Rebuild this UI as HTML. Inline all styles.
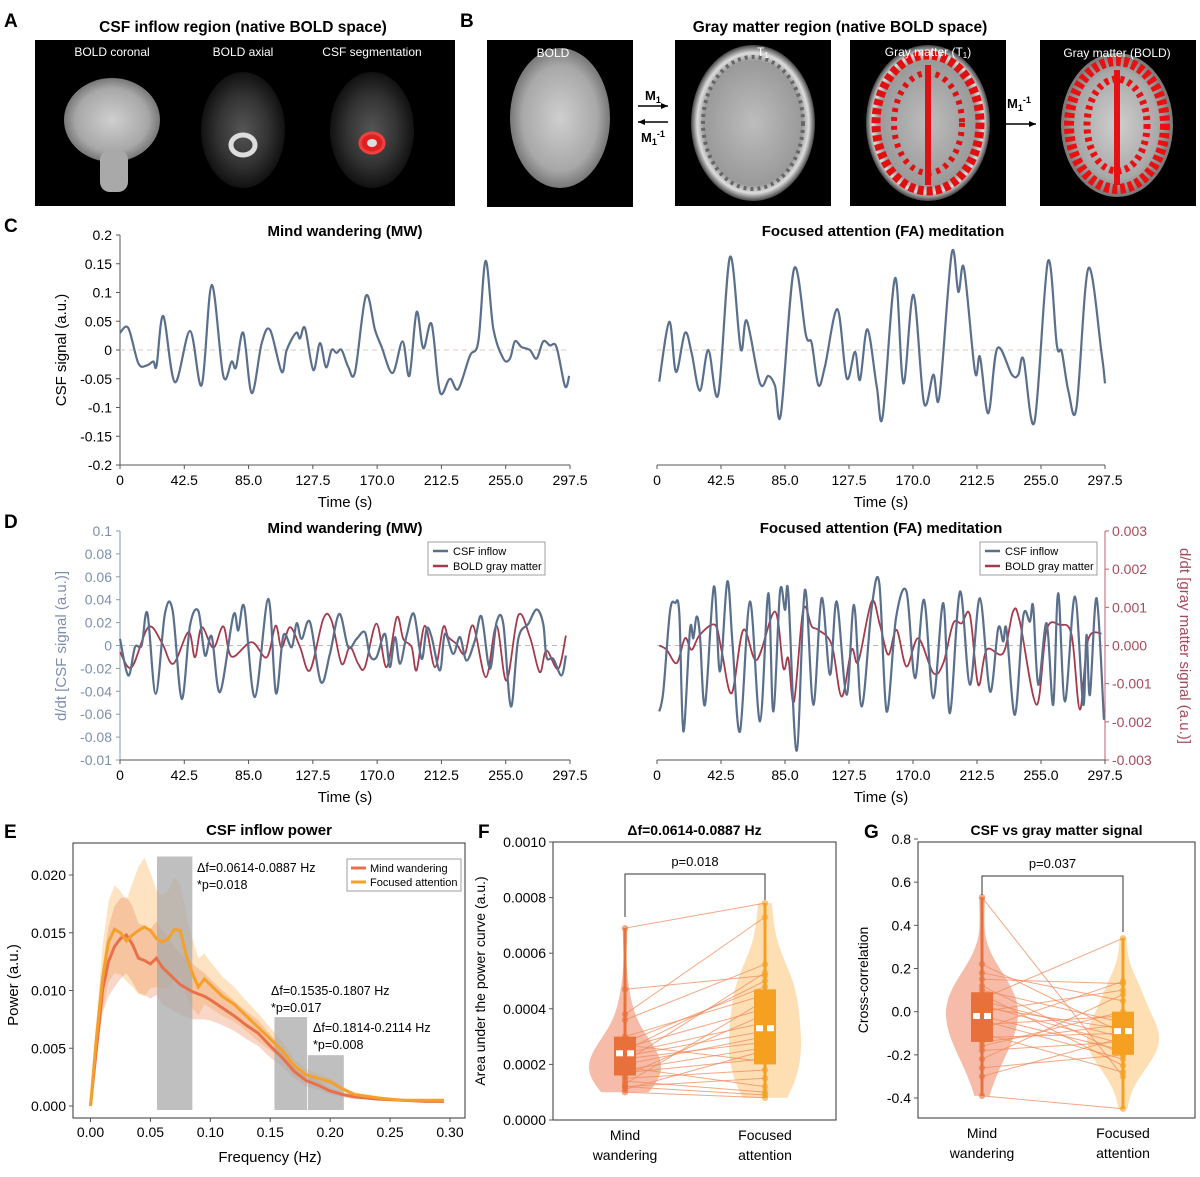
<!DOCTYPE html>
<html><head><meta charset="utf-8"><style>
html,body{margin:0;padding:0;background:#fff;}
svg{display:block;font-family:"Liberation Sans",sans-serif;}
</style></head><body>
<svg id="fig" width="1200" height="1177" viewBox="0 0 1200 1177" xmlns="http://www.w3.org/2000/svg">
<defs>
<radialGradient id="gBold" cx="50%" cy="50%" r="50%"><stop offset="0" stop-color="#cfcfcf"/><stop offset="0.75" stop-color="#a8a8a8"/><stop offset="1" stop-color="#777"/></radialGradient>
<radialGradient id="gT1" cx="50%" cy="50%" r="50%"><stop offset="0" stop-color="#bdbdbd"/><stop offset="0.8" stop-color="#9a9a9a"/><stop offset="0.9" stop-color="#ddd"/><stop offset="1" stop-color="#444"/></radialGradient>
<radialGradient id="gAx" cx="50%" cy="50%" r="50%"><stop offset="0" stop-color="#555"/><stop offset="0.6" stop-color="#333"/><stop offset="1" stop-color="#111"/></radialGradient>
</defs>

<!-- Panel A -->
<g>
<text x="4" y="27" font-size="19" font-weight="bold">A</text>
<text x="243" y="32" font-size="15.5" font-weight="bold" text-anchor="middle">CSF inflow region (native BOLD space)</text>
<rect x="35" y="40" width="420" height="166" fill="#000"/>
<g>
<ellipse cx="112" cy="120" rx="48" ry="42" fill="url(#gBold)"/>
<rect x="100" y="150" width="28" height="42" rx="10" fill="#a9a9a9"/>
<text x="112" y="56" font-size="12" fill="#fff" text-anchor="middle">BOLD coronal</text></g>
<g>
<ellipse cx="243" cy="130" rx="42" ry="58" fill="url(#gAx)"/>
<ellipse cx="243" cy="145" rx="12" ry="10" fill="none" stroke="#ddd" stroke-width="5"/>
<text x="243" y="56" font-size="12" fill="#fff" text-anchor="middle">BOLD axial</text></g>
<g>
<ellipse cx="372" cy="130" rx="42" ry="58" fill="url(#gAx)"/>
<ellipse cx="372" cy="143" rx="12" ry="10" fill="#e02020" stroke="#f04040" stroke-width="3"/>
<ellipse cx="372" cy="143" rx="5" ry="4" fill="#ddd"/>
<text x="372" y="56" font-size="12" fill="#fff" text-anchor="middle">CSF segmentation</text></g>
</g>

<!-- Panel B -->
<g>
<text x="460" y="27" font-size="19" font-weight="bold">B</text>
<text x="840" y="32" font-size="15.5" font-weight="bold" text-anchor="middle">Gray matter region (native BOLD space)</text>
<g>
<rect x="487" y="40" width="146" height="167" fill="#000"/>
<ellipse cx="560" cy="118" rx="50" ry="70" fill="url(#gBold)"/>
<text x="553" y="57" font-size="12" fill="#fff" text-anchor="middle">BOLD</text></g>
<g>
<line x1="638" y1="106" x2="668" y2="106" stroke="#000" stroke-width="1.5"/><path d="M668,106 l-7,-3 v6z" fill="#000"/>
<text x="645" y="100" font-size="13" font-weight="bold">M<tspan font-size="9" dy="3">1</tspan></text>
<line x1="638" y1="122" x2="668" y2="122" stroke="#000" stroke-width="1.5"/><path d="M638,122 l7,-3 v6z" fill="#000"/>
<text x="641" y="142" font-size="13" font-weight="bold">M<tspan font-size="9" dy="3">1</tspan><tspan font-size="9" dy="-8">-1</tspan></text></g>
<g>
<rect x="675" y="40" width="156" height="166" fill="#000"/>
<ellipse cx="753" cy="123" rx="62" ry="78" fill="url(#gT1)"/>
<ellipse cx="753" cy="123" rx="50" ry="66" fill="none" stroke="#666" stroke-width="4" stroke-dasharray="3 4"/>
<text x="757" y="56" font-size="12" fill="#fff">T<tspan font-size="8" dy="2">1</tspan></text></g>
<g>
<rect x="850" y="40" width="156" height="166" fill="#000"/>
<ellipse cx="928" cy="123" rx="62" ry="78" fill="url(#gT1)"/>
<ellipse cx="928" cy="123" rx="52" ry="68" fill="none" stroke="#e01010" stroke-width="9" stroke-dasharray="6 3"/>
<ellipse cx="928" cy="123" rx="34" ry="50" fill="none" stroke="#e01010" stroke-width="6" stroke-dasharray="4 5"/>
<line x1="928" y1="65" x2="928" y2="185" stroke="#e01010" stroke-width="6"/>
<text x="928" y="56" font-size="12" fill="#fff" text-anchor="middle">Gray matter (T<tspan font-size="8" dy="2">1</tspan><tspan dy="-2">)</tspan></text></g>
<g>
<line x1="1006" y1="124" x2="1036" y2="124" stroke="#000" stroke-width="1.5"/><path d="M1036,124 l-7,-3 v6z" fill="#000"/>
<text x="1007" y="108" font-size="13" font-weight="bold">M<tspan font-size="9" dy="3">1</tspan><tspan font-size="9" dy="-8">-1</tspan></text></g>
<g>
<rect x="1040" y="40" width="156" height="166" fill="#000"/>
<ellipse cx="1117" cy="125" rx="56" ry="72" fill="url(#gBold)"/>
<ellipse cx="1117" cy="125" rx="48" ry="64" fill="none" stroke="#e81010" stroke-width="10" stroke-dasharray="5 3"/>
<ellipse cx="1117" cy="125" rx="30" ry="46" fill="none" stroke="#e81010" stroke-width="7" stroke-dasharray="4 4"/>
<line x1="1117" y1="70" x2="1117" y2="185" stroke="#e81010" stroke-width="6"/>
<text x="1117" y="57" font-size="12" fill="#fff" text-anchor="middle">Gray matter (BOLD)</text></g>
</g>

<text x="4" y="232" font-size="19" font-weight="bold">C</text>
<text x="4" y="528" font-size="19" font-weight="bold">D</text>
<text x="4" y="838" font-size="19" font-weight="bold">E</text>
<text x="478" y="838" font-size="19" font-weight="bold">F</text>
<text x="864" y="838" font-size="19" font-weight="bold">G</text>
<g id="charts"></g>
</svg>
<script>
// ---------- DATA ----------
const cTicks = [0.2,0.15,0.1,0.05,0,-0.05,-0.1,-0.15,-0.2];
const timeTicks = [0,42.5,85.0,127.5,170.0,212.5,255.0,297.5];
const timeTickLabels = ["0","42.5","85.0","127.5","170.0","212.5","255.0","297.5"];
const cMwTime = [0,5.5,12.1,17.6,22,24.2,28.6,36.3,46.3,54,60.6,68.3,73.8,76.7,81.5,87.1,93.7,99.2,106.9,110.2,116.4,119,122.3,127.8,132.2,136.2,139.9,143.2,146.5,151,155.4,162.6,168.6,173,180.2,186.8,191.3,196.1,200.5,206,211.5,218.1,223.6,231.3,236.9,241.7,246.8,253.4,257.8,261.1,265.5,271,275.4,279.8,284.2,288.6,294.2,297];
const cMwCsf = [0.03,0.038,-0.023,-0.027,-0.02,-0.027,0.059,-0.056,0.033,-0.061,0.113,-0.045,-0.02,-0.03,0.03,-0.075,0.012,0.035,-0.038,0,0.03,0.02,0.038,-0.035,0.012,-0.03,0,-0.005,0,-0.03,-0.038,0.094,0.035,0.005,-0.04,0.015,-0.045,0.066,0.003,0.045,-0.073,-0.05,-0.068,-0.01,0.015,0.155,0.037,-0.015,-0.015,0.015,0.005,0,-0.015,0.015,0.008,0.005,-0.063,-0.045];
const cFaTime = [1.5,8.2,12.6,18.6,23,28.5,34.1,40.7,48.5,55.6,59.6,68.4,74,78.4,82.3,91,98.9,102.7,107.1,111.5,119.8,126,131.5,134.8,139.7,145.9,149.9,158.1,163.6,170.3,177.3,183.5,187.5,195.7,200.1,203.9,211.2,214.5,220,226,235.7,240,243.4,250.7,259.6,265.5,268.8,273.3,278.6,286.4,295.2,297.5];
const cFaCsf = [-0.055,0.049,-0.038,0.03,-0.005,-0.071,0,-0.077,0.162,0.002,0.051,-0.058,-0.045,-0.063,-0.111,0.141,0.026,0.012,-0.061,-0.029,0.071,-0.049,-0.003,-0.052,0.036,-0.063,-0.115,0.125,-0.058,0.096,-0.092,-0.043,-0.081,0.168,0.101,0.142,-0.038,-0.012,-0.11,0.003,-0.043,-0.043,-0.016,-0.125,0.154,0.009,-0.003,-0.073,-0.1,0.142,-0.005,-0.058];

const dLeftTicks = [0.1,0.08,0.06,0.04,0.02,0,-0.02,-0.04,-0.06,-0.08,-0.1];
const dLeftTickLabels = ["0.1","0.08","0.06","0.04","0.02","0","-0.02","-0.04","-0.06","-0.08","-0.01"];
const dRightTicks = [0.003,0.002,0.001,0,-0.001,-0.002,-0.003];
const dRightTickLabels = ["0.003","0.002","0.001","0.000","-0.001","-0.002","-0.003"];
const dMwCsfTime = [0,5.5,9.9,14.3,18.1,23.6,29.7,34.8,40.8,46.3,51.8,56.2,60.6,66.1,74.9,78.2,82.2,89.2,98,103.1,108,113.5,116.8,120.1,125.6,132.8,138.8,145,150.9,156.4,161.9,165.2,169.6,175.1,178.4,181.8,185.1,189.5,194.3,199.4,202.7,206,211.5,214.8,220.3,224.7,229.1,234.6,239,244.5,249,253.4,258.4,263.3,269.9,275.4,279.8,282,286.4,291.9,294.8];
const dMwCsf = [0.0058,-0.0262,-0.0015,0,0.0282,-0.0422,0.0276,0.0306,-0.0466,0.0175,0.030,-0.0087,0.0079,-0.0407,0.0262,0.0131,0.0335,-0.0451,0.0407,-0.0416,0.0087,-0.0015,0.0195,0.0058,0.0204,-0.032,-0.0073,0.0276,-0.0015,0.0058,0.0116,-0.0087,-0.0102,0.0102,-0.0189,0.0073,-0.016,0.0087,0.0276,-0.0116,0.0146,0.0073,-0.0218,0.0102,-0.0073,0.0073,-0.0131,0.0044,0.0253,-0.0204,0.0204,0.0189,-0.0533,0.0058,0.0189,0.0314,0.0189,-0.0102,-0.0116,-0.0262,-0.0087];
const dMwGmTime = [0,7.7,18.7,27.5,35.2,45.2,49.6,54,61.7,68.3,73.8,87,97,102.9,106.8,112.4,119,125.6,134.4,139.9,146.5,152,157.5,161.9,169.6,176.2,182.9,187.3,192.8,196.1,201.6,208.2,213.7,217,222.5,228,233.5,241.9,248.9,255.5,263.3,271,277.5,281.9,289.7,294.8];
const dMwGm = [-0.00017,-0.00057,0.00048,0.00009,-0.00048,0.00035,-0.00031,0.00048,-0.00006,0.0005,-0.00029,0.00009,-0.00031,0.00052,-0.00006,0.00048,-0.00004,-0.00065,0.0007,0.00065,-0.00048,-0.00004,-0.00048,-0.00057,0.00057,-0.00057,0.00074,0.00017,-0.00004,-0.00065,0.00052,-0.00057,0.00048,0.00022,0.00004,-0.00022,0.00052,-0.00083,0.00052,-0.00092,0.00079,0.00022,-0.0007,-0.00013,-0.00061,0.00026];
const dFaCsfTime = [1.5,4.2,8.6,12,14.8,17.5,21.9,24.1,26.3,28.5,31.9,37.8,41.8,46.7,50.2,55.1,61.7,68.4,73.9,77.2,81.7,85,87.2,92.7,98.2,103.8,109.3,114.9,119.3,125.9,130.8,135.9,142.5,147.6,152.5,158.7,165.7,171.3,177.3,183.5,190.1,194.5,201.2,207.8,214.4,221.1,226.6,229.9,232.1,237.7,243.2,247.6,249.8,253.2,258.7,263.1,266.4,270.9,277.5,283,285.2,287.5,291.9,296.8];
const dFaCsf = [-0.0576,-0.0402,0.0297,0.037,0.0282,-0.0751,0.0137,0.0064,0.0253,0.0093,-0.0518,0.0515,-0.0227,0.0559,0.0006,-0.0751,0.0384,-0.0663,0.0457,-0.0576,0.0471,0.0311,0.0457,-0.092,0.0486,-0.0518,0.0413,-0.0256,0.0384,-0.0431,0.0355,-0.0533,0.0326,0.0544,-0.0576,0.0239,0.0471,-0.0285,0.0399,-0.046,0.037,-0.0591,0.0471,-0.0343,0.0413,-0.0402,0.0151,0.0035,0.0137,-0.0605,0.0253,0.0209,0.034,-0.0343,0.0195,-0.0518,0.0457,-0.0489,0.0428,-0.0518,0.0093,-0.0431,0.0413,-0.0649];
const dFaGmTime = [1.5,6.4,13.1,18.6,23,28.5,38.5,43,49.6,57.3,66.2,78.3,83.9,87.2,91,97.1,102.7,107.1,116,122.6,129.2,133.7,142.5,148,153.6,159.1,165.7,173.5,183.5,190.1,196.7,202.3,207.8,213.3,218.9,229.9,236.5,240.9,252,258.7,267.5,275.3,280.8,286.3,295.2];
const dFaGm = [0,-0.00011,-0.00046,0.00019,-0.00011,0.00028,0.00054,-0.00016,-0.00125,0.00041,-0.00038,0.00089,-0.00059,-0.00033,-0.00147,0.00093,0.0005,0.00041,0.00002,-0.00134,-0.00011,-0.00042,0.00115,0.00054,-0.00024,0.00041,-0.00055,0.00019,-0.00072,-0.00046,0.00058,0.00058,0.0008,-0.00103,-0.00011,-0.0002,0.00089,0.00063,-0.00155,0.00041,0.00054,0.00028,-0.00168,0.00015,0.00032];

const eFreq = [0,0.005,0.01,0.015,0.02,0.025,0.03,0.035,0.04,0.045,0.05,0.055,0.06,0.065,0.07,0.075,0.08,0.085,0.09,0.095,0.1,0.11,0.12,0.13,0.14,0.15,0.16,0.17,0.18,0.19,0.2,0.21,0.22,0.24,0.26,0.28,0.295];
const eMwPower = [0,0.005,0.01,0.0125,0.0138,0.0145,0.0148,0.014,0.0128,0.0126,0.0123,0.0128,0.012,0.0115,0.011,0.0105,0.0102,0.0099,0.0097,0.0095,0.0092,0.0085,0.0078,0.007,0.0063,0.0052,0.0042,0.003,0.0022,0.0018,0.0013,0.001,0.0008,0.0006,0.0005,0.0004,0.0004];
const eMwSpread = [0,0.001,0.002,0.003,0.0035,0.0035,0.0033,0.0033,0.003,0.003,0.003,0.0032,0.0032,0.003,0.0028,0.0026,0.0025,0.0024,0.0022,0.002,0.0018,0.0015,0.0013,0.0012,0.0011,0.001,0.0008,0.0006,0.0005,0.0004,0.0003,0.0002,0.0002,0.0001,0.0001,0.0001,0.0001];
const eFaPower = [0,0.006,0.011,0.0142,0.0153,0.015,0.0143,0.0148,0.0152,0.0155,0.0152,0.0145,0.0142,0.0145,0.0153,0.0152,0.013,0.0115,0.0103,0.011,0.0105,0.0095,0.0088,0.0078,0.0068,0.0058,0.0048,0.0035,0.0027,0.0024,0.0021,0.0015,0.001,0.0007,0.0005,0.0005,0.0005];
const eFaSpread = [0,0.0015,0.0028,0.0035,0.0038,0.0036,0.0035,0.0045,0.0055,0.006,0.005,0.0042,0.004,0.0042,0.0045,0.004,0.0035,0.003,0.0025,0.0022,0.002,0.0017,0.0015,0.0013,0.0012,0.001,0.0008,0.0006,0.0005,0.0004,0.0003,0.0002,0.0002,0.0001,0.0001,0.0001,0.0001];
const eXTicks = [0,0.05,0.1,0.15,0.2,0.25,0.3];
const eXTickLabels = ["0.00","0.05","0.10","0.15","0.20","0.25","0.30"];
const eYTicks = [0,0.005,0.01,0.015,0.02];
const eYTickLabels = ["0.000","0.005","0.010","0.015","0.020"];
const eBandStart = [0.0555,0.1535,0.1814];
const eBandEnd = [0.085,0.1807,0.2114];
const eBandTop = [0.0216,0.0077,0.0044];
const eBandLabels = ["Δf=0.0614-0.0887 Hz","Δf=0.1535-0.1807 Hz","Δf=0.1814-0.2114 Hz"];
const eBandP = ["*p=0.018","*p=0.017","*p=0.008"];

const fCategories = ["Mind wandering","Focused attention"];
const fMw = [0.00069,0.00047,0.00038,0.00036,0.0003,0.00028,0.00027,0.00026,0.00025,0.00024,0.00023,0.00022,0.00021,0.0002,0.00019,0.00018,0.00017,0.00016,0.00015,0.00014,0.00013,0.00012,0.00012,0.00011,0.0001];
const fFa = [0.00078,0.00052,0.00073,0.00056,0.00045,0.00048,0.00021,0.0004,0.0005,0.00035,0.00032,0.00028,0.00053,0.0003,0.00012,0.00026,0.00022,0.00038,0.00018,0.0001,0.00043,0.00015,0.00009,0.00025,0.00008];
const fBoxQ1 = [0.00016,0.0002];
const fBoxMedian = [0.00024,0.00033];
const fBoxQ3 = [0.0003,0.00047];
const fYTicks = [0,0.0002,0.0004,0.0006,0.0008,0.001];
const fYTickLabels = ["0.0000","0.0002","0.0004","0.0006","0.0008","0.0010"];
const gMw = [0.53,0.22,0.18,0.15,0.12,0.1,0.08,0.06,0.05,0.03,0.02,0,-0.02,-0.04,-0.06,-0.08,-0.1,-0.12,-0.14,-0.16,-0.18,-0.22,-0.26,-0.3,-0.39];
const gFa = [-0.3,-0.1,0.05,0.13,-0.2,-0.05,-0.25,0.34,-0.12,-0.15,-0.08,0.1,-0.18,-0.22,-0.02,0.14,-0.28,-0.1,-0.06,0,-0.14,0.08,-0.2,-0.12,-0.45];
const gBoxQ1 = [-0.14,-0.2];
const gBoxMedian = [-0.02,-0.09];
const gBoxQ3 = [0.09,0.0];
const gYTicks = [-0.4,-0.2,0,0.2,0.4,0.6,0.8];
const gYTickLabels = ["-0.4","-0.2","0.0","0.2","0.4","0.6","0.8"];

// ---------- HELPERS ----------
const NS = "http://www.w3.org/2000/svg";
const root = document.getElementById('charts');
function mk(tag, attrs, parent){const e=document.createElementNS(NS,tag);for(const k in attrs)e.setAttribute(k,attrs[k]);(parent||root).appendChild(e);return e;}
function txt(x,y,s,size,anchor,parent,extra){const t=mk('text',Object.assign({x:x,y:y,'font-size':size,'text-anchor':anchor||'start'},extra||{}),parent);t.textContent=s;return t;}
function lin(d0,d1,r0,r1){return v=>r0+(v-d0)/(d1-d0)*(r1-r0);}
function smooth(xs,ys){let d=`M${xs[0]},${ys[0]}`;for(let i=0;i<xs.length-1;i++){const p0=i>0?i-1:i,p3=i+2<xs.length?i+2:i+1;const c1x=xs[i]+(xs[i+1]-xs[p0])/6,c1y=ys[i]+(ys[i+1]-ys[p0])/6,c2x=xs[i+1]-(xs[p3]-xs[i])/6,c2y=ys[i+1]-(ys[p3]-ys[i])/6;d+=` C${c1x.toFixed(1)},${c1y.toFixed(1)} ${c2x.toFixed(1)},${c2y.toFixed(1)} ${xs[i+1].toFixed(1)},${ys[i+1].toFixed(1)}`;}return d;}
function series(times,vals,sx,sy,color,width,name,parent){const p=mk('path',{d:smooth(times.map(sx),vals.map(sy)),fill:'none',stroke:color,'stroke-width':width,'stroke-linejoin':'round'},parent);


return p;}
function grp(name){const g=mk('g',{});


return g;}
const AX='#555', CSF='#5a6f8c', GM='#a53a4c';

function timeAxis(g,sx,y){mk('line',{x1:sx(0),y1:y,x2:sx(297.5),y2:y,stroke:AX,'stroke-width':1},g);
timeTicks.forEach((t,i)=>{mk('line',{x1:sx(t),y1:y,x2:sx(t),y2:y+4,stroke:AX},g);txt(sx(t),y+20,timeTickLabels[i],14,'middle',g);});
txt((sx(0)+sx(297.5))/2,y+42,'Time (s)',15,'middle',g);}

// ---------- PANEL C ----------
(function(){
 const g=grp('panel-c');
 const sy=lin(-0.2,0.2,465,235);
 const sxL=lin(0,297.5,120,570), sxR=lin(0,297.5,657,1105);
 mk('line',{x1:120,y1:235,x2:120,y2:465,stroke:AX},g);
 cTicks.forEach(v=>{mk('line',{x1:116,y1:sy(v),x2:120,y2:sy(v),stroke:AX},g);txt(112,sy(v)+5,String(v),14,'end',g);});
 txt(0,0,'CSF signal (a.u.)',15,'middle',g,{transform:'translate(66,350) rotate(-90)'});
 [sxL,sxR].forEach(sx=>{mk('line',{x1:sx(0),y1:sy(0),x2:sx(297.5),y2:sy(0),stroke:'#d8c8c0','stroke-dasharray':'5 4'},g);timeAxis(g,sx,465);});
 txt(345,236,'Mind wandering (MW)',15,'middle',g,{'font-weight':'bold'});
 txt(883,236,'Focused attention (FA) meditation',15,'middle',g,{'font-weight':'bold'});
 series(cMwTime,cMwCsf,sxL,sy,CSF,2.2,'csf-line-mw',g);
 series(cFaTime,cFaCsf,sxR,sy,CSF,2.2,'csf-line-fa',g);
})();

// ---------- PANEL D ----------
(function(){
 const g=grp('panel-d');
 const sy=lin(-0.1,0.1,760,531), syR=lin(-0.003,0.003,760,531);
 const sxL=lin(0,297.5,120,570), sxR=lin(0,297.5,657,1105);
 mk('line',{x1:120,y1:531,x2:120,y2:760,stroke:'#8a9ab5'},g);
 dLeftTicks.forEach((v,i)=>{mk('line',{x1:116,y1:sy(v),x2:120,y2:sy(v),stroke:'#8a9ab5'},g);txt(112,sy(v)+5,dLeftTickLabels[i],14,'end',g,{fill:'#7d8fae'});});
 txt(0,0,'d/dt [CSF signal (a.u.)]',15,'middle',g,{transform:'translate(66,646) rotate(-90)',fill:'#7d8fae'});
 mk('line',{x1:1105,y1:531,x2:1105,y2:760,stroke:'#b86070'},g);
 dRightTicks.forEach((v,i)=>{mk('line',{x1:1105,y1:syR(v),x2:1109,y2:syR(v),stroke:'#b86070'},g);txt(1112,syR(v)+5,dRightTickLabels[i],14,'start',g,{fill:'#a94a5c'});});
 txt(0,0,'d/dt [gray matter signal (a.u.)]',15,'middle',g,{transform:'translate(1180,646) rotate(90)',fill:'#a94a5c'});
 [sxL,sxR].forEach(sx=>{mk('line',{x1:sx(0),y1:sy(0),x2:sx(297.5),y2:sy(0),stroke:'#bbb','stroke-dasharray':'5 4'},g);timeAxis(g,sx,760);});
 txt(345,533,'Mind wandering (MW)',15,'middle',g,{'font-weight':'bold'});
 txt(881,533,'Focused attention (FA) meditation',15,'middle',g,{'font-weight':'bold'});
 series(dMwGmTime,dMwGm,sxL,syR,GM,1.8,'gray-matter-line-mw',g);
 series(dMwCsfTime,dMwCsf,sxL,sy,CSF,2.2,'csf-inflow-line-mw',g);
 series(dFaGmTime,dFaGm,sxR,syR,GM,1.8,'gray-matter-line-fa',g);
 series(dFaCsfTime,dFaCsf,sxR,sy,CSF,2.2,'csf-inflow-line-fa',g);
 [[428,542,'legend-mw'],[980,542,'legend-fa']].forEach(([x,y,n])=>{const lg=mk('g',{},g);
 
 
 mk('rect',{x:x,y:y,width:117,height:33,fill:'#fff',stroke:'#888','stroke-width':0.8},lg);
 mk('line',{x1:x+5,y1:y+9,x2:x+20,y2:y+9,stroke:CSF,'stroke-width':2.5},lg);txt(x+25,y+13,'CSF inflow',11,'start',lg);
 mk('line',{x1:x+5,y1:y+24,x2:x+20,y2:y+24,stroke:GM,'stroke-width':2.5},lg);txt(x+25,y+28,'BOLD gray matter',11,'start',lg);});
})();

// ---------- PANEL E ----------
(function(){
 const g=grp('panel-e');
 const sx=lin(0,0.3,90.5,450), sy=lin(0,0.02,1106,875);
 mk('rect',{x:73,y:843,width:392,height:275,fill:'none',stroke:'#333','stroke-width':1},g);
 txt(269,835,'CSF inflow power',15,'middle',g,{'font-weight':'bold'});
 eXTicks.forEach((v,i)=>{mk('line',{x1:sx(v),y1:1118,x2:sx(v),y2:1122,stroke:AX},g);txt(sx(v),1137,eXTickLabels[i],14,'middle',g);});
 eYTicks.forEach((v,i)=>{mk('line',{x1:69,y1:sy(v),x2:73,y2:sy(v),stroke:AX},g);txt(66,sy(v)+5,eYTickLabels[i],14,'end',g);});
 txt(270,1162,'Frequency (Hz)',15,'middle',g);
 txt(0,0,'Power (a.u.)',15,'middle',g,{transform:'translate(18,985) rotate(-90)'});
 function band(mean,sp,col,op,name){let d='M'+eFreq.map((f,i)=>sx(f)+','+sy(mean[i]+sp[i])).join(' L');for(let i=eFreq.length-1;i>=0;i--)d+=' L'+sx(eFreq[i])+','+sy(Math.max(0,mean[i]-sp[i]));d+='Z';const p=mk('path',{d:d,fill:col,'fill-opacity':op},g);
 
 }
 band(eFaPower,eFaSpread,'#f9b050',0.35,'fa-power-band');
 band(eMwPower,eMwSpread,'#ec8a60',0.35,'mw-power-band');
 eBandStart.forEach((s,i)=>{const r=mk('rect',{x:sx(s),y:sy(eBandTop[i]),width:sx(eBandEnd[i])-sx(s),height:1110-sy(eBandTop[i]),fill:'#aaa','fill-opacity':0.75},g);
 
 });
 const pts=(arr)=>{const xs=eFreq.map(sx),ys=arr.map(sy);return 'M'+xs.map((x,i)=>x+','+ys[i]).join(' L');};
 const l1=mk('path',{d:pts(eMwPower),fill:'none',stroke:'#e8704a','stroke-width':3},g);
 
 
 const l2=mk('path',{d:pts(eFaPower),fill:'none',stroke:'#f5a02a','stroke-width':3},g);
 
 
 const lx=[197,271,313], ly=[872,995,1032];
 eBandLabels.forEach((s,i)=>{txt(lx[i],ly[i],s,12.5,'start',g);txt(lx[i],ly[i]+17,eBandP[i],12.5,'start',g);});
 const lg=mk('g',{},g);
 
 
 mk('rect',{x:347,y:859,width:114,height:32,fill:'#fff',stroke:'#888','stroke-width':0.8},lg);
 mk('line',{x1:351,y1:868,x2:366,y2:868,stroke:'#e8704a','stroke-width':3},lg);txt(370,872,'Mind wandering',11,'start',lg);
 mk('line',{x1:351,y1:882,x2:366,y2:882,stroke:'#f5a02a','stroke-width':3},lg);txt(370,886,'Focused attention',11,'start',lg);
})();

// ---------- VIOLIN PANELS ----------
function violinPanel(o){
 const g=grp(o.name);
 const sy=lin(o.d0,o.d1,o.r0,o.r1);
 mk('rect',{x:o.left,y:o.top,width:o.right-o.left,height:o.bottom-o.top,fill:'none',stroke:'#333'},g);
 o.ticks.forEach((v,i)=>{mk('line',{x1:o.left-4,y1:sy(v),x2:o.left,y2:sy(v),stroke:AX},g);txt(o.left-7,sy(v)+5,o.tickLabels[i],14,'end',g);});
 txt((o.left+o.right)/2,835,o.title,14,'middle',g,{'font-weight':'bold'});
 txt(0,0,o.ylab,14,'middle',g,{transform:`translate(${o.ylx},${(o.top+o.bottom)/2}) rotate(-90)`});
 const sets=[o.a,o.b], cx=o.cx, vcol=['#f3a58c','#fcd49a'], bcol=['#e8703a','#f5a020'];
 sets.forEach((d,k)=>{const mn=Math.min(...d),mx=Math.max(...d);const m=d.reduce((a,b)=>a+b,0)/d.length;const sd=Math.sqrt(d.reduce((a,b)=>a+(b-m)*(b-m),0)/d.length);const bw=sd*0.55;
  const N=40,ys=[],ws=[];for(let j=0;j<=N;j++){const v=mn+(mx-mn)*j/N;let s=0;d.forEach(x=>{s+=Math.exp(-0.5*((v-x)/bw)**2);});ys.push(v);ws.push(s);}
  const wm=Math.max(...ws);let p='M'+ys.map((v,j)=>(cx[k]-ws[j]/wm*36)+','+sy(v)).join(' L');for(let j=N;j>=0;j--)p+=' L'+(cx[k]+ws[j]/wm*36)+','+sy(ys[j]);p+='Z';
  const vp=mk('path',{d:p,fill:vcol[k],'fill-opacity':0.75},g);
  
  });
 o.a.forEach((v,i)=>{const ln=mk('line',{x1:cx[0],y1:sy(v),x2:cx[1],y2:sy(o.b[i]),stroke:'#f08a5a','stroke-width':1,'stroke-opacity':0.75},g);
 
 });
 sets.forEach((d,k)=>{const mn=Math.min(...d),mx=Math.max(...d);
  mk('line',{x1:cx[k],y1:sy(mn),x2:cx[k],y2:sy(mx),stroke:bcol[k],'stroke-width':3},g);
  const b=mk('rect',{x:cx[k]-11,y:sy(o.q3[k]),width:22,height:sy(o.q1[k])-sy(o.q3[k]),fill:bcol[k]},g);
  
  
  d.forEach(v=>{const c=mk('circle',{cx:cx[k],cy:sy(v),r:3.2,fill:bcol[k],'fill-opacity':0.6},g);
  
  });
  mk('rect',{x:cx[k]-9,y:sy(o.med[k])-3,width:7,height:6,fill:'#fff'},g);
  mk('rect',{x:cx[k]+2,y:sy(o.med[k])-3,width:7,height:6,fill:'#fff'},g);
  const lab=fCategories[k].split(' ');txt(cx[k],o.catY,lab[0],14,'middle',g);txt(cx[k],o.catY+20,lab[1],14,'middle',g);});
 const br=mk('path',{d:`M${cx[0]},${o.brL} V${o.brTop} H${cx[1]} V${o.brR}`,fill:'none',stroke:'#333','stroke-width':1},g);
 
 
 txt((cx[0]+cx[1])/2,o.brTop-8,o.p,13,'middle',g);
}
violinPanel({name:'panel-f',d0:0,d1:0.001,r0:1120,r1:842,left:553,right:836,top:842,bottom:1120,ticks:fYTicks,tickLabels:fYTickLabels,title:'Δf=0.0614-0.0887 Hz',ylab:'Area under the power curve (a.u.)',ylx:485,a:fMw,b:fFa,cx:[625,765],q1:fBoxQ1,q3:fBoxQ3,med:fBoxMedian,catY:1140,brTop:874,brL:917,brR:900,p:'p=0.018'});
violinPanel({name:'panel-g',d0:-0.4,d1:0.8,r0:1098,r1:839,left:918,right:1195,top:842,bottom:1118,ticks:gYTicks,tickLabels:gYTickLabels,title:'CSF vs gray matter signal',ylab:'Cross-correlation',ylx:868,a:gMw,b:gFa,cx:[982,1123],q1:gBoxQ1,q3:gBoxQ3,med:gBoxMedian,catY:1138,brTop:876,brL:895,brR:932,p:'p=0.037'});
</script>
</body></html>
